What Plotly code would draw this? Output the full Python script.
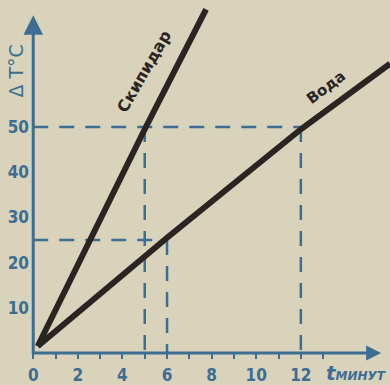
import plotly.graph_objects as go

# ---- data ----
t_turp = [0.2, 5.0, 7.75]          # Скипидар, minutes
dT_turp = [1.5, 49.5, 76.0]
t_water = [0.2, 6.0, 12.0, 16.0]   # Вода, minutes
dT_water = [1.5, 25.5, 49.5, 64.0]

x_tick_vals = list(range(0, 14))
x_tick_text = ["0", "", "2", "", "4", "", "6", "", "8", "", "10", "", "12", ""]
y_tick_vals = [10, 20, 30, 40, 50]
y_tick_text = ["10", "20", "30", "40", "50"]

# guide (dashed) lines
guides_x = [[0, 12], [5, 5], [12, 12], [0, 6], [6, 6]]
guides_y = [[50, 50], [50, 0], [50, 0], [25, 25], [25, 0]]

BG = "#d9d3bc"
BLUE = "#3c6d93"
DARK = "#2a2523"
TICKFONT = dict(family="Liberation Sans Narrow, DejaVu Sans Condensed, Arial Narrow, Liberation Sans",
                size=17, color=BLUE, weight="bold")

fig = go.Figure()

for gx, gy in zip(guides_x, guides_y):
    fig.add_trace(go.Scatter(x=gx, y=gy, mode="lines",
                             line=dict(color=BLUE, width=2.5, dash="15px,11px"),
                             hoverinfo="skip", showlegend=False))

fig.add_trace(go.Scatter(x=t_turp, y=dT_turp, mode="lines",
                         line=dict(color=DARK, width=6), showlegend=False))
fig.add_trace(go.Scatter(x=t_water, y=dT_water, mode="lines",
                         line=dict(color=DARK, width=6), showlegend=False))

# axes drawn as arrows
fig.add_annotation(x=0, y=74.7, ax=0, ay=-0.6, xref="x", yref="y", axref="x", ayref="y",
                   text="", showarrow=True, arrowhead=2, arrowsize=1.3, arrowwidth=3,
                   arrowcolor=BLUE)
fig.add_annotation(x=15.6, y=0, ax=-0.1, ay=0, xref="x", yref="y", axref="x", ayref="y",
                   text="", showarrow=True, arrowhead=2, arrowsize=1.0, arrowwidth=3,
                   arrowcolor=BLUE)

# curve labels
fig.add_annotation(x=4.98, y=62.2, text="<b>Скипидар</b>", showarrow=False, textangle=-60,
                   font=dict(family="DejaVu Sans", size=16, color=DARK))
fig.add_annotation(x=13.15, y=58.8, text="<b>Вода</b>", showarrow=False, textangle=-37,
                   font=dict(family="DejaVu Sans", size=15, color=DARK))

# axis titles (paper coordinates, outside the plotting area)
fig.add_annotation(x=-0.042, y=0.80, xref="paper", yref="paper", text="Δ T°C",
                   xanchor="center", yanchor="middle",
                   showarrow=False, textangle=-90,
                   font=dict(family="DejaVu Sans", size=19, color=BLUE))
fig.add_annotation(x=0.905, y=-0.056, xref="paper", yref="paper",
                   xanchor="center", yanchor="middle",
                   text="<b><i>t</i></b><span style='font-size:12px'><b><i>МИНУТ</i></b></span>",
                   showarrow=False,
                   font=dict(family="DejaVu Sans", size=20, color=BLUE))

fig.update_layout(
    width=390, height=385,
    margin=dict(l=31, r=0, t=0, b=32, autoexpand=False),
    paper_bgcolor=BG, plot_bgcolor=BG,
    xaxis=dict(range=[-0.1, 15.998], tickvals=x_tick_vals, ticktext=x_tick_text,
               ticks="outside", ticklen=5, tickwidth=2, tickcolor=BLUE,
               showgrid=False, zeroline=False, showline=False, tickfont=TICKFONT,
               ticklabelstandoff=2, automargin=False),
    yaxis=dict(range=[0, 78.1], tickvals=y_tick_vals, ticktext=y_tick_text,
               ticks="", showgrid=False, zeroline=False, showline=False,
               tickfont=TICKFONT, ticklabelstandoff=1, automargin=False),
    showlegend=False,
)

fig.write_html("out.html", config={"displayModeBar": False},
               post_script="document.body.style.margin='0';document.body.style.overflow='hidden';")
